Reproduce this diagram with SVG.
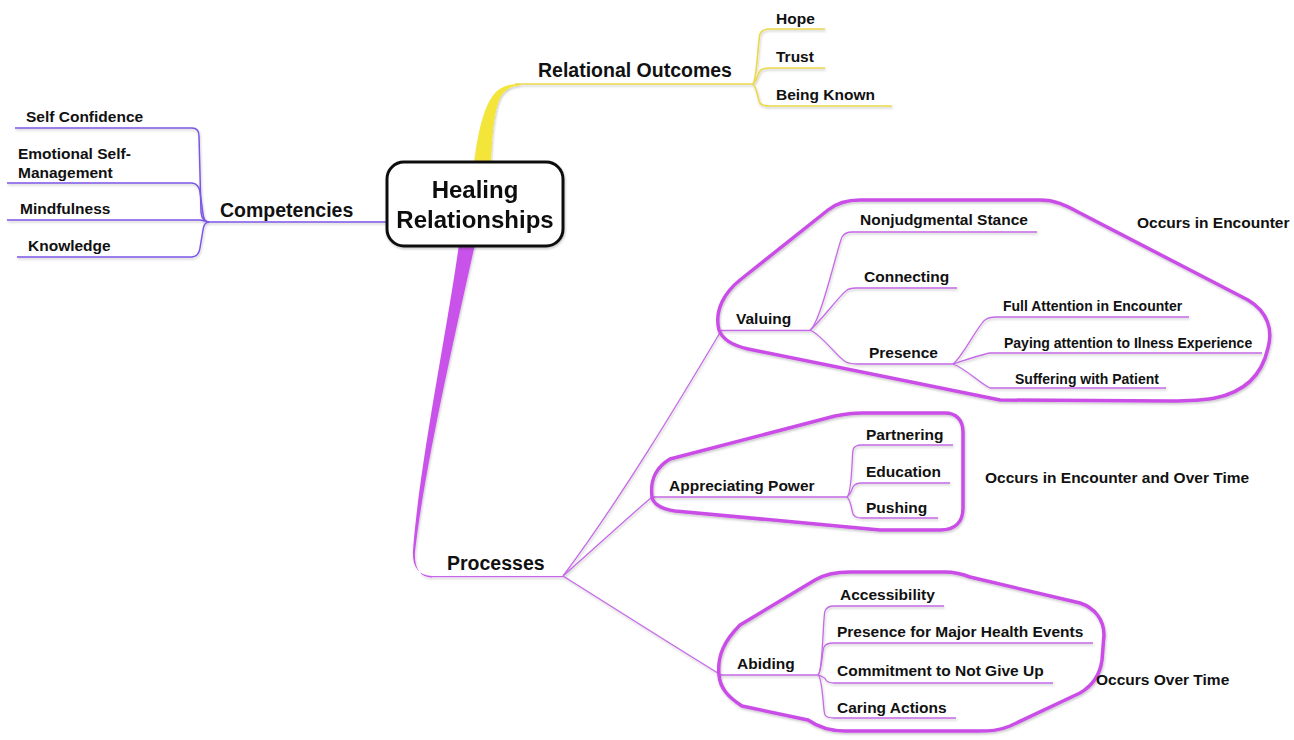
<svg xmlns="http://www.w3.org/2000/svg" width="1294" height="740" viewBox="0 0 1294 740">
  <defs>
    <filter id="shadow" x="-5%" y="-5%" width="110%" height="110%">
      <feDropShadow dx="0.8" dy="1.6" stdDeviation="0.9" flood-color="#000" flood-opacity="0.22"/>
    </filter>
    <style>
      text { font-family: "Liberation Sans", Arial, sans-serif; font-weight: bold; fill: #111; }
      .t0 { font-size: 24px; text-anchor: middle; }
      .t1 { font-size: 19.5px; }
      .t2 { font-size: 15.5px; }
      .t3 { font-size: 14px; }
      .yl { fill: none; stroke: #ecd84c; stroke-width: 1.6; }
      .pl { fill: none; stroke: #c46ae6; stroke-width: 1.3; }
      .cl { fill: none; stroke: #7d55e6; stroke-width: 1.5; }
      .enc { fill: none; stroke: #c94ee6; stroke-width: 3.5; stroke-linejoin: round; }
    </style>
  </defs>
  <rect width="1294" height="740" fill="#fff"/>

  <g id="connectors" filter="url(#shadow)">
    <!-- tapered trunk up to Relational Outcomes -->
    <path d="M474,164 C478,132 484,104 496,92 C503,86 510,84 520,84 L520,85.6 C512,86 506,89 501,96 C494,110 492,136 491,164 Z" fill="#f4e53a"/>
    <path class="yl" d="M515,84 L753,84"/>
    <path class="yl" d="M753,84 C757,80 758,40 760,34 Q762,29 770,29 L825,29"/>
    <path class="yl" d="M753,84 C757,80 758,74 760,71 Q762,68 770,68 L825,68"/>
    <path class="yl" d="M753,84 C757,88 758,100 760,103 Q762,106 770,106 L892,106"/>

    <!-- tapered trunk down to Processes -->
    <path d="M459,244 C449,320 420,460 413,550 C412,566 418,576 432,576 L432,577.6 C420,577.6 414,568 415,552 C424,470 456,330 475,244 Z" fill="#c953ea"/>
    <path class="pl" d="M430,576.6 L563,576.6"/>
    <path class="pl" d="M563,576 C620,500 680,400 721,331"/>
    <path class="pl" d="M563,576 C595,548 625,520 652,497"/>
    <path class="pl" d="M563,576 C620,612 680,650 721,675"/>

    <!-- Competencies -->
    <path class="cl" d="M386,222 L207,222"/>
    <path class="cl" d="M15,128 L192,128 Q199,128 199,136 L201,212 Q202,222 209,222"/>
    <path class="cl" d="M7,183 L192,183 Q199,184 200,192 L203,214 Q204,222 209,222"/>
    <path class="cl" d="M7,220 L200,220 Q205,221 209,222"/>
    <path class="cl" d="M17,257 L192,257 Q199,256 200,248 L203,230 Q204,222 209,222"/>

    <!-- Valuing -->
    <path class="pl" d="M719,330.5 L810,330.5"/>
    <path class="pl" d="M810,330 C820,325 838,245 842,237 Q845,232 852,232 L1037,232"/>
    <path class="pl" d="M810,330 C820,322 840,295 846,291 Q849,288 856,288 L957,288"/>
    <path class="pl" d="M810,330 C822,335 838,358 846,362 Q850,364 858,364 L953,364"/>
    <path class="pl" d="M953,364 C962,358 978,325 985,320 Q989,317 996,317 L1189,317"/>
    <path class="pl" d="M953,364 C965,360 980,355 990,353 L1262,353"/>
    <path class="pl" d="M953,364 C965,368 982,385 990,388 L1166,388"/>

    <!-- Appreciating Power -->
    <path class="pl" d="M652,497 L847,497"/>
    <path class="pl" d="M847,497 C852,494 852,455 853,450 Q854,445 862,445 L953,445"/>
    <path class="pl" d="M847,497 C851,494 852,489 853,487 Q855,483 862,483 L950,483"/>
    <path class="pl" d="M847,497 C851,500 852,512 853,514 Q855,518 862,518 L938,518"/>

    <!-- Abiding -->
    <path class="pl" d="M721,675 L818,675"/>
    <path class="pl" d="M818,675 C823,672 823,615 825,611 Q827,606 834,606 L944,606"/>
    <path class="pl" d="M818,675 C822,672 822,650 824,647 Q826,643 833,643 L1093,643"/>
    <path class="pl" d="M818,675 Q825,677 826,680 Q828,683 834,683 L1053,683"/>
    <path class="pl" d="M818,675 C823,678 823,712 825,715 Q827,718 834,718 L956,718"/>
  </g>

  <!-- grouping outlines -->
  <g id="enclosures" filter="url(#shadow)">
    <path class="enc" d="M719,330 C714,310 725,292 740,280 L828,210 C838,202 848,200 860,200 L1040,200 C1055,200 1065,205 1078,212 L1248,300 C1268,312 1273,330 1268,348 C1262,375 1245,392 1215,398 C1200,401 1185,401 1170,401 L1000,400 L748,349 C730,345 722,338 719,330 Z"/>
    <path class="enc" d="M652,497 C650,480 655,468 670,459 L835,416 C845,414 852,413 862,413 L945,413 C956,413 963,420 963,432 L963,508 C963,522 955,530 940,530 L880,530 L675,511 C660,509 653,503 652,497 Z"/>
    <path class="enc" d="M719,675 C717,655 725,640 740,625 L815,580 C825,574 835,572 850,572 L945,572 C955,572 962,574 970,577 L1080,603 C1095,608 1104,620 1104,635 L1102,660 C1100,675 1092,686 1080,693 L1010,726 C998,731 990,731 978,731 L845,731 C830,731 818,727 808,720 L742,706 C728,697 720,688 719,675 Z"/>
  </g>

  <g id="root" filter="url(#shadow)">
    <rect x="387" y="162" width="176" height="84" rx="17" fill="#fff" stroke="#111" stroke-width="3"/>
    <text class="t0" x="475" y="198">Healing</text>
    <text class="t0" x="475" y="228">Relationships</text>
  </g>

  <g id="relational-outcomes"><text class="t1" x="538" y="77">Relational Outcomes</text></g>
  <g id="hope"><text class="t2" x="776" y="24">Hope</text></g>
  <g id="trust"><text class="t2" x="776" y="62">Trust</text></g>
  <g id="being-known"><text class="t2" x="776" y="100">Being Known</text></g>

  <g id="competencies"><text class="t1" x="220" y="217">Competencies</text></g>
  <g id="self-confidence"><text class="t2" x="26" y="122">Self Confidence</text></g>
  <g id="emotional"><text class="t2" x="18" y="159">Emotional Self-</text><text class="t2" x="18" y="178">Management</text></g>
  <g id="mindfulness"><text class="t2" x="20" y="214">Mindfulness</text></g>
  <g id="knowledge"><text class="t2" x="28" y="251">Knowledge</text></g>

  <g id="processes"><text class="t1" x="447" y="570">Processes</text></g>

  <g id="valuing"><text class="t2" x="736" y="324">Valuing</text></g>
  <g id="nonjudgmental"><text class="t2" x="860" y="225">Nonjudgmental Stance</text></g>
  <g id="connecting"><text class="t2" x="864" y="282">Connecting</text></g>
  <g id="presence"><text class="t2" x="869" y="358">Presence</text></g>
  <g id="full-attention"><text class="t3" x="1003" y="311">Full Attention in Encounter</text></g>
  <g id="paying-attention"><text class="t3" x="1004" y="348">Paying attention to Ilness Experience</text></g>
  <g id="suffering"><text class="t3" x="1015" y="384">Suffering with Patient</text></g>
  <g id="note-encounter"><text class="t2" x="1137" y="228">Occurs in Encounter</text></g>

  <g id="appreciating-power"><text class="t2" x="669" y="491">Appreciating Power</text></g>
  <g id="partnering"><text class="t2" x="866" y="440">Partnering</text></g>
  <g id="education"><text class="t2" x="866" y="477">Education</text></g>
  <g id="pushing"><text class="t2" x="866" y="513">Pushing</text></g>
  <g id="note-both"><text class="t2" x="985" y="483">Occurs in Encounter and Over Time</text></g>

  <g id="abiding"><text class="t2" x="737" y="669">Abiding</text></g>
  <g id="accessibility"><text class="t2" x="840" y="600">Accessibility</text></g>
  <g id="presence-events"><text class="t2" x="837" y="637">Presence for Major Health Events</text></g>
  <g id="commitment"><text class="t2" x="837" y="676">Commitment to Not Give Up</text></g>
  <g id="caring-actions"><text class="t2" x="837" y="713">Caring Actions</text></g>
  <g id="note-time"><text class="t2" x="1096" y="685">Occurs Over Time</text></g>
</svg>
